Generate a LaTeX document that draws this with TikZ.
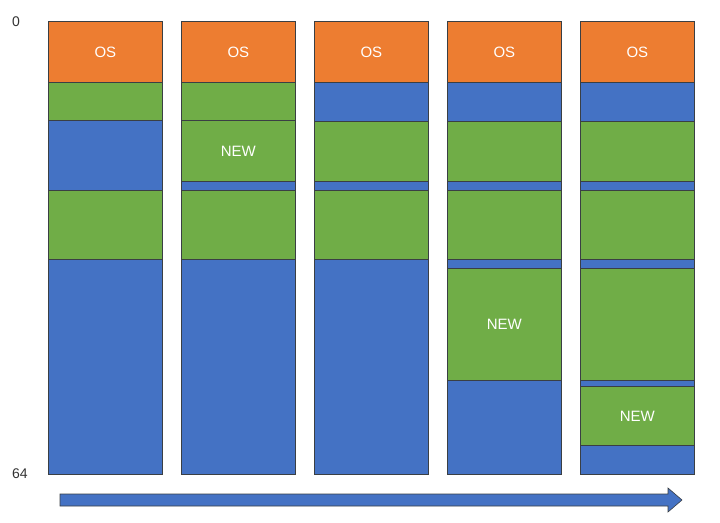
\documentclass[tikz,border=0pt]{standalone}
\usepackage{fontspec}
\setmainfont{Liberation Sans}
\definecolor{osorange}{HTML}{ED7D31}
\definecolor{usedgreen}{HTML}{70AD47}
\definecolor{freeblue}{HTML}{4472C4}
\definecolor{edgegray}{HTML}{3A3F44}
\definecolor{newtext}{HTML}{E2F5D3}

\begin{document}
\begin{tikzpicture}[x=1pt, y=-1pt,
	seg/.style={draw=edgegray, line width=0.7pt, anchor=north west, inner sep=0pt,
		minimum width=114pt, text=white, font=\fontsize{15}{15}\selectfont},
	axis label/.style={text=black!80, font=\fontsize{14}{14}\selectfont}]

	\useasboundingbox (0,0) rectangle (720,522);

	% column 1
	\foreach \t/\b/\c/\l [count=\i] in {21/82/osorange/OS, 82/120/usedgreen/{}, 120/190/freeblue/{},
		190/259/usedgreen/{}, 259/474/freeblue/{}}
	{ \pgfmathsetmacro\h{\b-\t}
	  \node[seg, fill=\c, minimum height=\h pt] (c1-\i) at (48,\t) {\l}; }

	% column 2
	\foreach \t/\b/\c/\l [count=\i] in {21/82/osorange/OS, 82/120/usedgreen/{}, 120/181/usedgreen/NEW,
		181/190/freeblue/{}, 190/259/usedgreen/{}, 259/474/freeblue/{}}
	{ \pgfmathsetmacro\h{\b-\t}
	  \node[seg, fill=\c, minimum height=\h pt] (c2-\i) at (181,\t) {\l}; }

	% column 3
	\foreach \t/\b/\c/\l [count=\i] in {21/82/osorange/OS, 82/121/freeblue/{}, 121/181/usedgreen/{},
		181/190/freeblue/{}, 190/259/usedgreen/{}, 259/474/freeblue/{}}
	{ \pgfmathsetmacro\h{\b-\t}
	  \node[seg, fill=\c, minimum height=\h pt] (c3-\i) at (314,\t) {\l}; }

	% column 4
	\foreach \t/\b/\c/\l [count=\i] in {21/82/osorange/OS, 82/121/freeblue/{}, 121/181/usedgreen/{},
		181/190/freeblue/{}, 190/259/usedgreen/{}, 259/268/freeblue/{}, 268/380/usedgreen/NEW,
		380/474/freeblue/{}}
	{ \pgfmathsetmacro\h{\b-\t}
	  \node[seg, fill=\c, minimum height=\h pt] (c4-\i) at (447,\t) {\l}; }

	% column 5
	\foreach \t/\b/\c/\l [count=\i] in {21/82/osorange/OS, 82/121/freeblue/{}, 121/181/usedgreen/{},
		181/190/freeblue/{}, 190/259/usedgreen/{}, 259/268/freeblue/{}, 268/380/usedgreen/{},
		380/386/freeblue/{}, 386/445/usedgreen/NEW, 445/474/freeblue/{}}
	{ \pgfmathsetmacro\h{\b-\t}
	  \node[seg, fill=\c, minimum height=\h pt] (c5-\i) at (580,\t) {\l}; }

	\node[axis label] (top) at (16,22) {0};
	\node[axis label] (bottom) at (20,474) {64};

	% time arrow
	\coordinate (tail) at (60,500);
	\coordinate (tip) at (682,500);
	\fill[freeblue, draw=edgegray, line width=0.6pt]
		([yshift=-6pt]tail) -- ([xshift=-14pt, yshift=-6pt]tip) -- ([xshift=-14pt, yshift=-12pt]tip)
		-- (tip) -- ([xshift=-14pt, yshift=12pt]tip) -- ([xshift=-14pt, yshift=6pt]tip)
		-- ([yshift=6pt]tail) -- cycle;
\end{tikzpicture}
\end{document}
